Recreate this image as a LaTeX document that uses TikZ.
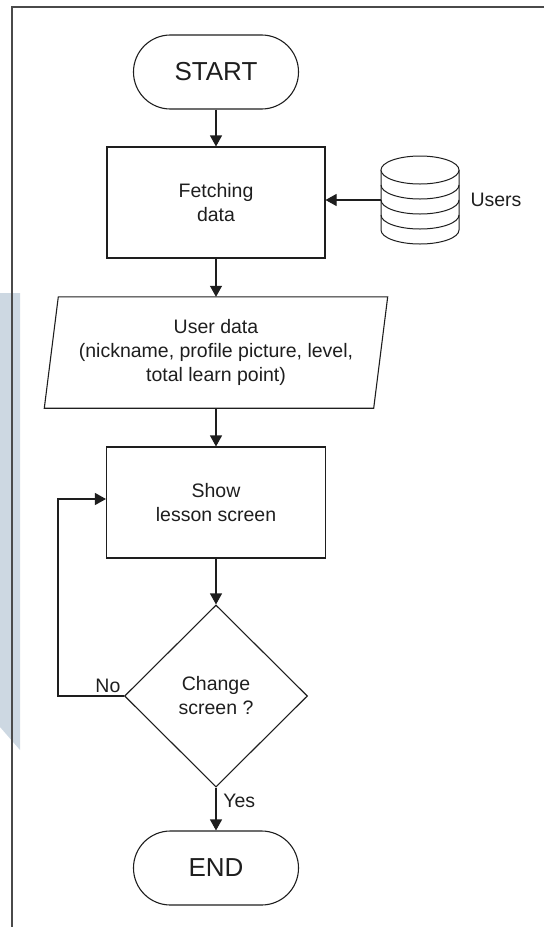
\documentclass[tikz,border=0pt]{standalone}
\usepackage{fontspec}
\setmainfont{Liberation Sans}
\usetikzlibrary{arrows.meta,shapes.geometric,calc}
\definecolor{ink}{HTML}{1E1E1E}
\definecolor{band}{HTML}{CDD8E2}
\definecolor{frameline}{HTML}{4A4A4A}
\begin{document}
\begin{tikzpicture}[x=1pt,y=-1pt,
  font=\fontsize{19.5}{24}\selectfont, text=ink,
  box/.style={draw=ink,line width=1.1pt,minimum width=218pt,minimum height=111pt,inner sep=0pt,align=center},
  term/.style={draw=ink,line width=1.1pt,rounded corners=36.9pt,minimum width=165pt,minimum height=74pt,inner sep=0pt,font=\fontsize{26}{30}\selectfont},
  flow/.style={draw=ink,line width=1.1pt,-{Triangle[width=12pt,length=11pt]}},
  disc/.style={draw=ink,line width=1pt},
]
\useasboundingbox (0,0) rectangle (544,927);
% side band and page frame
\fill[band] (0,293) -- (20,293) -- (20,750) -- (0,727) -- cycle;
\draw[frameline,line width=1.3pt] (544,7) -- (12,7) -- (12,927);

% flowchart nodes
\node[term] (start) at (216,72) {START};
\node[box] (fetch) at (216,202.5) {Fetching\\data};
\node[inner sep=0pt,minimum width=78pt,minimum height=90pt] (db) at (420,200) {};
\node (users) at (496,200) {Users};
\node[inner sep=0pt,minimum width=343pt,minimum height=111pt,align=center] (udata) at (216,352.5)
  {User data\\(nickname, profile picture, level,\\total learn point)};
\draw[ink,line width=1.1pt] ([xshift=14pt]udata.north west) -- (udata.north east)
  -- ([xshift=-14pt]udata.south east) -- (udata.south west) -- cycle;
\node[box,minimum width=219pt] (show) at (216,502.5) {Show\\lesson screen};
\node[diamond,draw=ink,line width=1.1pt,minimum width=183pt,minimum height=182pt,inner sep=0pt,align=center] (dec) at (216,696) {Change\\screen ?};
\node[term] (end) at (216,868) {END};

% database cylinder
\draw[disc,fill=white] (381,170) -- (381,230) arc[start angle=180,end angle=360,x radius=39pt,y radius=14pt] -- (459,170);
\draw[disc,fill=white] (420,170) ellipse[x radius=39pt,y radius=14pt];
\foreach \yy in {185,200,215}
  \draw[disc] (381,\yy) arc[start angle=180,end angle=360,x radius=39pt,y radius=14pt];

% connectors
\draw[flow] (start) -- (fetch);
\draw[flow] (db.west) -- (db.west -| fetch.east);
\draw[flow] (fetch) -- (udata);
\draw[flow] (udata) -- (show);
\draw[flow] (show) -- (dec);
\draw[flow] (dec) -- node[pos=0.3,anchor=west,xshift=3.5pt] (yes) {Yes} (end);
\draw[flow] (dec.west) -- ++(-66,0) |- ([yshift=3.5pt]show.west);
\node[anchor=south east] (no) at (dec.west) {No};
\end{tikzpicture}
\end{document}
